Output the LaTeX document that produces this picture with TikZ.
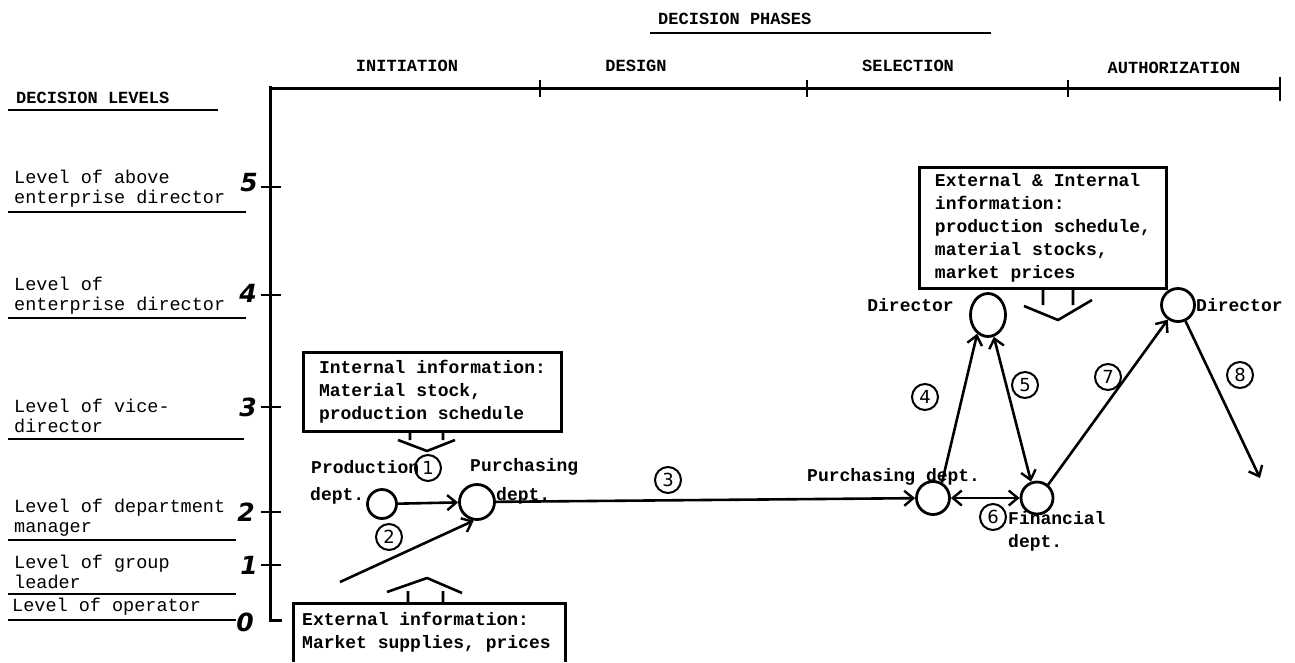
\documentclass[tikz,border=0pt]{standalone}
\usepackage{fontspec}
\setmainfont{Liberation Mono}
\newfontfamily\handfont{DejaVu Sans}
\usetikzlibrary{arrows.meta,shapes.geometric}

\begin{document}
\begin{tikzpicture}[x=1pt,y=-1pt,
  every node/.style={inner sep=0pt, font=\bfseries\fontsize{18}{23}\selectfont},
  axisline/.style={line width=3pt},
  uline/.style={line width=2.8pt},
  head/.style={font=\bfseries\fontsize{17}{18}\selectfont},
  lvl/.style={anchor=west, align=left, font=\fontsize{18.5}{20}\selectfont},
  num/.style={font=\handfont\bfseries\itshape\fontsize{25}{25}\selectfont},
  dept/.style={circle, draw, line width=2.8pt, minimum size=#1},
  tag/.style={circle, draw, line width=2pt, minimum size=26pt,
    font=\handfont\fontsize{18}{18}\selectfont},
  infobox/.style={draw, line width=3pt, align=left, anchor=north west,
    inner xsep=9pt, inner ysep=6pt},
  barb/.tip={Straight Barb[length=9pt,width=15pt,line width=2.4pt]},
  flow/.style={line width=2.6pt, -barb},
  flowboth/.style={line width=2.6pt, barb-barb},
  hollow/.style={line width=2.6pt, line join=round}]

\useasboundingbox (0,0) rectangle (1295,662);

% ---- phase axis ----
\node[head, anchor=west] (phases) at (658,19) {DECISION PHASES};
\draw[uline] (650,33) -- (991,33);
\draw[axisline] (270,88) -- (1280,88);
\foreach \x in {540,807,1068} \draw[line width=2.6pt] (\x,80) -- (\x,97);
\draw[line width=2.8pt] (1280,77) -- (1280,101);
\node[head] (p1) at (407,66) {INITIATION};
\node[head] (p2) at (636,66) {DESIGN};
\node[head] (p3) at (908,66) {SELECTION};
\node[head] (p4) at (1174,68) {AUTHORIZATION};

% ---- level axis ----
\node[head, anchor=west] (levels) at (16,98) {DECISION LEVELS};
\draw[uline] (8,110) -- (218,110);
\draw[axisline] (270,86) -- (270,620) -- (282,620);
\foreach \y in {187,295,407,512,565} \draw[line width=2.6pt] (261,\y) -- (281,\y);

\node[num] (n5) at (249,183) {5};
\node[num] (n4) at (248,293) {4};
\node[num] (n3) at (248,407) {3};
\node[num] (n2) at (246,512) {2};
\node[num] (n1) at (249,565) {1};
\node[num] (n0) at (245,622) {0};

\node[lvl] (l5) at (14,189) {Level of above\\enterprise director};
\draw[uline] (8,212) -- (246,212);
\node[lvl] (l4) at (14,296) {Level of\\enterprise director};
\draw[uline] (8,318) -- (246,318);
\node[lvl] (l3) at (14,416) {Level of vice-\\director};
\draw[uline] (8,439) -- (244,439);
\node[lvl] (l2) at (14,518) {Level of department\\manager};
\draw[uline] (8,540) -- (236,540);
\node[lvl] (l1) at (14,572) {Level of group\\leader};
\draw[uline] (8,594) -- (236,594);
\node[lvl] (l0) at (12,607) {Level of operator};
\draw[uline] (8,620) -- (236,620);

% ---- information boxes ----
\node[infobox, minimum width=258pt, minimum height=79pt] (intinfo) at (302,351)
  {Internal information:\\Material stock,\\production schedule};
\draw[hollow] (410,430) -- (410,440) (443,430) -- (443,440)
  (398,440) -- (427,451) -- (455,440);

\node[anchor=north west, align=left] (extinfo) at (302,612)
  {External information:\\Market supplies, prices};
\draw[line width=3pt] (293,662) -- (293,603) -- (565,603) -- (565,662);
\draw[hollow] (408,603) -- (408,591) (443,603) -- (443,591)
  (387,592) -- (427,578) -- (462,593);

\node[infobox, minimum width=247pt, minimum height=121pt] (allinfo) at (918,166)
  {External \& Internal\\information:\\production schedule,\\material stocks,\\market prices};
\draw[hollow] (1043,287) -- (1043,305) (1073,287) -- (1073,305)
  (1024,306) -- (1058,320) -- (1092,300);

% ---- departments ----
\node[dept=29pt] (prod) at (382,504) {};
\node[dept=35pt] (pur1) at (477,502) {};
\node[dept=33pt] (pur2) at (933,498) {};
\node[dept=32pt] (fin) at (1037,498) {};
\node[ellipse, draw, line width=2.8pt, minimum width=35pt, minimum height=43pt] (dir1) at (988,315) {};
\node[dept=33pt] (dir2) at (1178,305) {};
\coordinate (src2) at (340,582);
\coordinate (end8) at (1260,478);

\node[anchor=west] (tprod) at (311,467) {Production};
\node[anchor=west] (tprod2) at (310,496) {dept.};
\node[anchor=west] (tpur1) at (470,467) {Purchasing};
\node[anchor=west] (tpur1b) at (496,496) {dept.};
\node[anchor=west] (tpur2) at (807,477) {Purchasing dept.};
\node[anchor=west, align=left] (tfin) at (1008,531) {Financial\\dept.};
\node[anchor=east] (tdir1) at (954,305) {Director};
\node[anchor=west] (tdir2) at (1196,305) {Director};

% ---- flows ----
\draw[flow] (prod) -- (pur1);
\draw[flow] (src2) -- (pur1.260);
\draw[flow] (pur1) -- (pur2);
\draw[flow] (pur2.60) -- (dir1.240);
\draw[flowboth] (dir1.285) -- (fin.110);
\draw[flowboth] (pur2) -- (fin);
\draw[flow] (fin.50) -- (dir2.235);
\draw[flow] (dir2.-65) -- (end8);

% ---- step numbers ----
\node[tag] (s1) at (428,468) {1};
\node[tag] (s2) at (389,537) {2};
\node[tag] (s3) at (668,480) {3};
\node[tag] (s4) at (925,397) {4};
\node[tag] (s5) at (1025,385) {5};
\node[tag] (s6) at (993,517) {6};
\node[tag] (s7) at (1108,377) {7};
\node[tag] (s8) at (1240,375) {8};
\end{tikzpicture}
\end{document}
